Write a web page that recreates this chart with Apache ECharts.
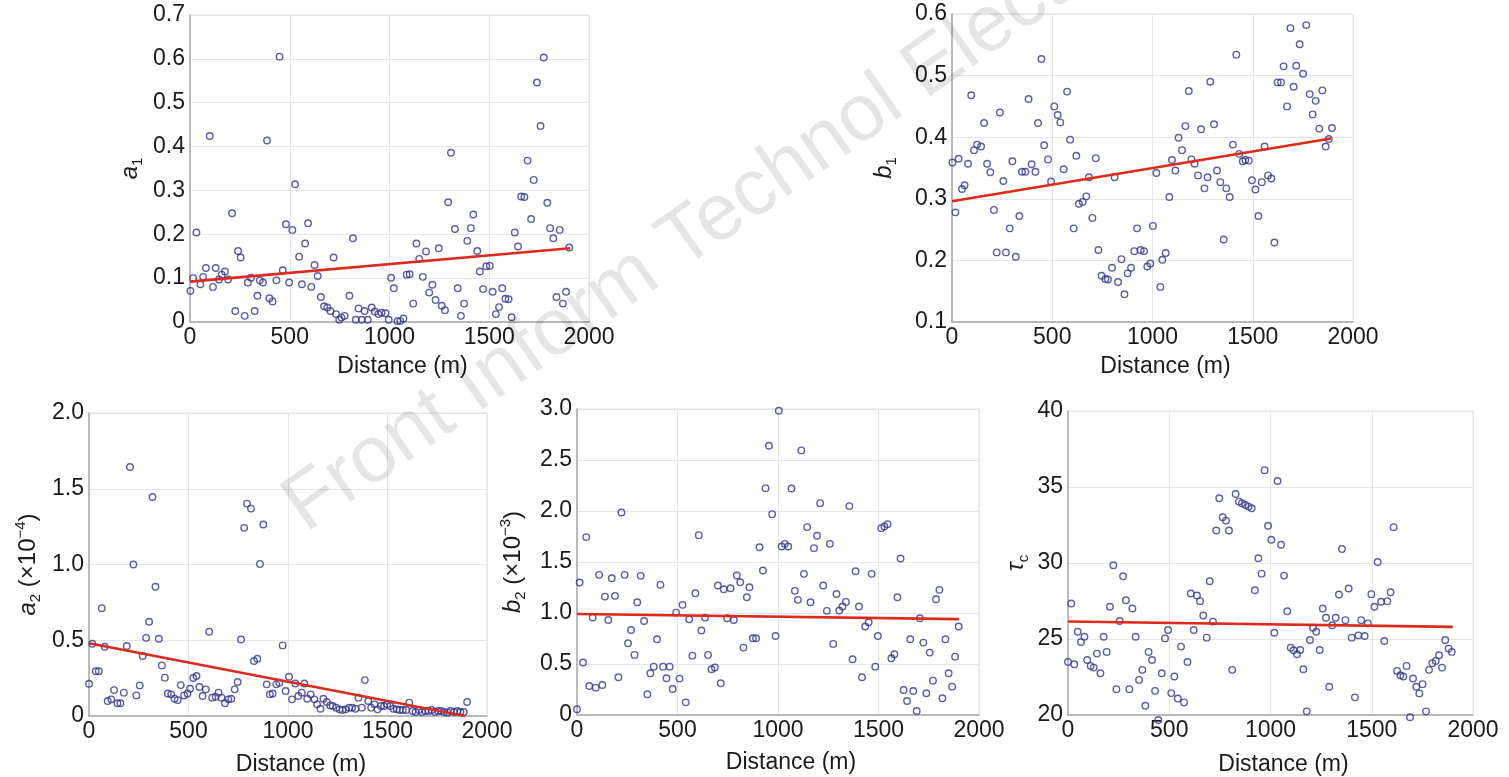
<!DOCTYPE html>
<html>
<head>
<meta charset="utf-8">
<script src="https://cdn.jsdelivr.net/npm/echarts@6/dist/echarts.min.js"></script>
<style>
html, body { margin: 0; padding: 0; background: #fff; }
#chart { width: 1509px; height: 777px; }
</style>
</head>
<body>
<div id="chart"></div>
<script>
// a1 vs distance
const a1X = [2,16,32,52,66,80,99,115,129,145,159,175,191,211,227,241,254,274,290,306,324,338,350,366,386,398,414,433,449,465,481,497,513,527,547,561,577,592,608,624,640,656,672,688,704,720,732,748,759,775,799,817,831,845,861,875,891,911,926,944,960,980,996,1008,1022,1040,1054,1070,1086,1101,1119,1135,1149,1167,1183,1199,1215,1231,1247,1262,1278,1294,1308,1328,1342,1358,1374,1390,1408,1420,1440,1453,1469,1485,1503,1517,1533,1549,1565,1581,1597,1612,1628,1644,1660,1676,1692,1710,1723,1739,1757,1773,1791,1805,1821,1837,1853,1869,1885,1901];
const a1Y = [0.071,0.10,0.204,0.086,0.103,0.123,0.424,0.080,0.123,0.097,0.108,0.115,0.097,0.248,0.025,0.162,0.147,0.014,0.09,0.101,0.025,0.06,0.095,0.09,0.414,0.054,0.047,0.095,0.605,0.118,0.223,0.09,0.21,0.314,0.149,0.086,0.179,0.225,0.08,0.13,0.105,0.057,0.036,0.033,0.025,0.147,0.018,0.005,0.010,0.014,0.06,0.191,0.005,0.031,0.005,0.025,0.005,0.033,0.024,0.018,0.021,0.020,0.005,0.101,0.077,0.002,0.002,0.008,0.108,0.109,0.042,0.179,0.144,0.103,0.161,0.067,0.085,0.05,0.168,0.037,0.027,0.273,0.386,0.212,0.077,0.014,0.042,0.185,0.214,0.245,0.162,0.115,0.075,0.127,0.128,0.069,0.018,0.034,0.077,0.053,0.052,0.011,0.204,0.172,0.286,0.285,0.368,0.235,0.324,0.546,0.447,0.603,0.272,0.214,0.191,0.057,0.21,0.042,0.069,0.17];

// b1 vs distance
const b1X = [2,17,33,50,63,80,96,110,125,145,160,175,191,209,223,239,256,269,288,301,318,336,349,366,382,397,416,429,446,460,479,494,510,527,540,557,574,589,607,620,633,652,670,683,700,717,730,746,765,778,798,811,828,845,860,876,893,909,923,941,958,974,989,1002,1019,1039,1049,1066,1084,1097,1114,1130,1147,1164,1181,1194,1210,1227,1242,1259,1275,1288,1307,1322,1338,1355,1368,1385,1401,1418,1433,1450,1463,1480,1496,1513,1528,1545,1559,1576,1593,1608,1624,1641,1654,1671,1688,1704,1717,1734,1751,1767,1784,1799,1814,1832,1847,1864,1879,1895];
const b1Y = [0.359,0.278,0.365,0.316,0.322,0.357,0.468,0.379,0.388,0.385,0.423,0.357,0.343,0.282,0.213,0.44,0.329,0.213,0.252,0.361,0.206,0.272,0.344,0.344,0.462,0.356,0.344,0.423,0.527,0.387,0.364,0.328,0.45,0.436,0.424,0.348,0.474,0.396,0.252,0.37,0.292,0.295,0.304,0.335,0.269,0.366,0.217,0.175,0.17,0.169,0.188,0.335,0.165,0.202,0.145,0.179,0.188,0.215,0.252,0.217,0.215,0.19,0.195,0.256,0.342,0.157,0.201,0.212,0.303,0.363,0.346,0.399,0.379,0.418,0.475,0.364,0.357,0.338,0.413,0.317,0.335,0.49,0.421,0.346,0.327,0.234,0.317,0.303,0.388,0.534,0.373,0.361,0.363,0.362,0.33,0.315,0.272,0.327,0.385,0.338,0.333,0.229,0.489,0.489,0.515,0.45,0.577,0.482,0.516,0.551,0.503,0.582,0.47,0.437,0.459,0.414,0.476,0.385,0.397,0.415];

// a2 (x10^-4) vs distance
const a2X = [0,17,34,49,64,79,94,112,126,143,158,175,190,206,223,238,255,270,287,302,319,334,351,366,381,396,413,430,446,461,478,495,508,524,540,555,571,587,604,619,636,651,666,683,700,715,732,747,764,780,794,814,829,846,859,876,893,909,923,941,956,973,988,1005,1020,1037,1052,1069,1082,1097,1114,1133,1146,1163,1178,1195,1212,1225,1242,1259,1274,1290,1307,1322,1339,1354,1371,1386,1403,1418,1435,1450,1467,1483,1498,1514,1530,1547,1561,1577,1594,1609,1626,1641,1658,1673,1690,1707,1722,1738,1754,1770,1785,1802,1817,1834,1851,1866,1883,1900];
const a2Y = [0.213,0.477,0.295,0.295,0.712,0.457,0.099,0.11,0.171,0.084,0.084,0.154,0.462,1.644,1.0,0.136,0.202,0.396,0.516,0.622,1.446,0.853,0.51,0.334,0.253,0.149,0.143,0.114,0.105,0.204,0.136,0.149,0.18,0.251,0.264,0.191,0.132,0.176,0.556,0.121,0.127,0.154,0.121,0.084,0.11,0.114,0.176,0.224,0.505,1.242,1.402,1.369,0.363,0.378,1.004,1.264,0.209,0.143,0.149,0.209,0.22,0.466,0.165,0.259,0.11,0.215,0.132,0.154,0.215,0.114,0.143,0.11,0.077,0.048,0.114,0.092,0.07,0.066,0.055,0.044,0.04,0.044,0.055,0.055,0.048,0.121,0.055,0.237,0.099,0.055,0.077,0.044,0.066,0.066,0.077,0.066,0.048,0.044,0.04,0.04,0.04,0.088,0.033,0.026,0.04,0.026,0.033,0.033,0.04,0.026,0.033,0.033,0.026,0.022,0.033,0.026,0.033,0.026,0.026,0.092];

// b2 (x10^-3) vs distance
const b2X = [0,13,30,46,61,78,93,110,126,139,156,173,189,206,221,237,254,269,286,300,317,334,350,365,382,398,415,428,445,461,476,493,510,525,541,558,574,589,606,619,637,652,669,686,701,715,730,747,764,780,795,812,828,845,858,875,891,908,925,938,955,971,988,1004,1018,1034,1051,1067,1084,1099,1116,1129,1145,1162,1179,1194,1210,1225,1243,1258,1275,1291,1305,1321,1338,1355,1371,1386,1403,1418,1434,1451,1466,1484,1497,1514,1529,1545,1564,1579,1594,1610,1625,1642,1658,1673,1690,1706,1723,1738,1755,1771,1786,1803,1818,1833,1849,1866,1881,1899];
const b2Y = [0.056,1.299,0.514,1.744,0.285,0.955,0.268,1.374,0.294,1.161,0.932,1.341,1.168,0.37,1.986,1.374,0.703,0.834,0.589,1.106,1.364,0.922,0.203,0.409,0.474,0.743,1.276,0.474,0.36,0.474,0.255,1.004,0.357,1.08,0.124,0.939,0.582,1.194,1.763,0.828,0.955,0.589,0.448,0.465,1.269,0.311,1.233,0.949,1.243,0.932,1.367,1.302,0.661,1.155,1.253,0.752,0.752,1.645,1.416,2.224,2.64,1.969,0.775,2.983,1.652,1.678,1.652,2.221,1.217,1.129,2.594,1.384,1.842,1.106,1.636,1.757,2.077,1.269,1.021,1.678,0.697,1.187,1.024,1.063,1.109,2.048,0.546,1.41,1.063,0.37,0.867,0.909,1.384,0.474,0.775,1.832,1.848,1.871,0.556,0.595,1.155,1.534,0.245,0.137,0.743,0.236,0.039,0.949,0.71,0.213,0.612,0.337,1.135,1.227,0.164,0.743,0.409,0.278,0.572,0.867];

// tau_c vs distance
const tcX = [0,16,31,48,64,81,95,112,127,143,160,176,191,207,224,239,255,272,286,303,318,334,351,367,382,398,415,430,446,463,479,494,510,525,542,558,573,590,606,621,637,652,668,685,700,716,732,747,764,780,795,811,828,844,859,876,892,907,923,940,956,971,988,1004,1019,1035,1052,1067,1083,1100,1114,1131,1147,1162,1179,1195,1210,1226,1243,1258,1274,1290,1305,1322,1338,1353,1370,1386,1401,1417,1434,1448,1465,1481,1498,1513,1529,1546,1562,1577,1593,1608,1625,1641,1656,1672,1689,1704,1720,1735,1751,1768,1783,1799,1816,1832,1847,1863,1880,1895];
const tcY = [23.49,27.34,23.34,25.48,24.8,25.15,23.62,23.23,23.12,24.04,22.75,25.15,24.15,27.12,29.85,21.7,26.18,29.13,27.55,21.7,27.01,25.15,22.31,22.97,20.61,24.15,23.62,21.59,19.67,22.75,25.04,25.59,21.44,22.53,21.09,24.5,20.83,23.49,27.99,25.59,27.86,27.49,26.55,25.09,28.8,26.14,32.14,34.26,33.01,32.79,32.14,22.97,34.54,34.04,33.93,33.82,33.71,33.6,28.21,30.31,29.3,36.11,32.45,31.53,25.41,35.39,31.2,29.17,26.83,24.43,24.26,24.0,24.28,23.01,20.24,24.93,25.74,25.48,24.28,27.01,26.4,21.86,25.9,26.4,27.93,30.92,26.24,28.32,25.09,21.16,25.24,26.24,25.2,26.03,27.95,27.12,30.07,27.45,24.87,27.49,28.08,32.36,22.9,22.62,22.53,23.23,19.85,22.4,21.86,21.42,22.03,20.24,22.97,23.41,23.56,23.93,23.12,24.93,24.37,24.15];

// fitted lines (end points)
const a1TrendX = [0, 1905], a1TrendY = [0.092, 0.168];
const b1TrendX = [0, 1890], b1TrendY = [0.296, 0.398];
const a2TrendX = [0, 1890], a2TrendY = [0.48, 0.0];
const b2TrendX = [0, 1900], b2TrendY = [0.99, 0.94];
const tcTrendX = [0, 1900], tcTrendY = [26.15, 25.8];

const zip = (xs, ys) => xs.map((x, i) => [x, ys[i]]);
const oneDec = v => (v === 0 ? '0' : v.toFixed(1));

const FONT = 'Liberation Sans, Arial, sans-serif';
const INK = '#1a1a1a';
const nameRich = {
    i: { fontStyle: 'italic', fontSize: 24, lineHeight: 30, fontFamily: FONT, color: INK },
    s: { fontSize: 15, lineHeight: 15, verticalAlign: 'bottom', fontFamily: FONT, color: INK },
    n: { fontSize: 24, lineHeight: 30, fontFamily: FONT, color: INK },
    p: { fontSize: 15, lineHeight: 15, verticalAlign: 'top', fontFamily: FONT, color: INK }
};

const panels = [
    { grid: { left: 190, top: 15, width: 399, height: 307 }, pts: zip(a1X, a1Y), line: zip(a1TrendX, a1TrendY),
      min: 0, max: 0.7, interval: 0.1, name: '{i|a}{s|1}', gap: 45, fmt: null, xGap: 33 },
    { grid: { left: 952, top: 14, width: 401, height: 308 }, pts: zip(b1X, b1Y), line: zip(b1TrendX, b1TrendY),
      min: 0.1, max: 0.6, interval: 0.1, name: '{i|b}{s|1}', gap: 53, fmt: null, xGap: 33 },
    { grid: { left: 89, top: 413, width: 398, height: 304 }, pts: zip(a2X, a2Y), line: zip(a2TrendX, a2TrendY),
      min: 0, max: 2, interval: 0.5, name: '{i|a}{s|2}{n| (×10}{p|−4}{n|)}', gap: 46, fmt: oneDec, xGap: 37 },
    { grid: { left: 577, top: 409, width: 402, height: 306 }, pts: zip(b2X, b2Y), line: zip(b2TrendX, b2TrendY),
      min: 0, max: 3, interval: 0.5, name: '{i|b}{s|2}{n| (×10}{p|−3}{n|)}', gap: 49, fmt: oneDec, xGap: 36 },
    { grid: { left: 1068, top: 411, width: 405, height: 306 }, pts: zip(tcX, tcY), line: zip(tcTrendX, tcTrendY),
      min: 20, max: 40, interval: 5, name: '{i|τ}{s|c}', gap: 37, fmt: null, xGap: 38 }
];

const option = {
    backgroundColor: '#ffffff',
    animation: false,
    grid: panels.map(p => Object.assign({ show: true, borderColor: '#dcdcdc', borderWidth: 1, backgroundColor: 'transparent' }, p.grid)),
    xAxis: panels.map((p, i) => ({
        type: 'value', gridIndex: i, min: 0, max: 2000, interval: 500,
        name: 'Distance (m)', nameLocation: 'middle', nameGap: p.xGap,
        nameTextStyle: { fontSize: 23, fontFamily: FONT, color: INK, padding: [0, 0, 0, 26] },
        axisLine: { show: true, onZero: false, lineStyle: { color: '#a8a8a8', width: 1.5 } },
        axisTick: { show: false },
        axisLabel: { fontSize: 23, fontFamily: FONT, color: INK, margin: 4, formatter: v => String(v) },
        splitLine: { show: true, lineStyle: { color: '#e6e6e6', width: 1 } }
    })),
    yAxis: panels.map((p, i) => ({
        type: 'value', gridIndex: i, min: p.min, max: p.max, interval: p.interval,
        name: p.name, nameLocation: 'middle', nameRotate: 90, nameGap: p.gap,
        nameTextStyle: { rich: nameRich },
        axisLine: { show: true, onZero: false, lineStyle: { color: '#a8a8a8', width: 1.5 } },
        axisTick: { show: false },
        axisLabel: { fontSize: 23, fontFamily: FONT, color: INK, margin: 5, formatter: p.fmt || undefined },
        splitLine: { show: true, lineStyle: { color: '#e6e6e6', width: 1 } }
    })),
    series: panels.flatMap((p, i) => [
        {
            type: 'scatter', xAxisIndex: i, yAxisIndex: i, data: p.pts, clip: false,
            symbol: 'circle', symbolSize: 6.5,
            itemStyle: { color: 'rgba(0,0,0,0)', borderColor: '#35358c', borderWidth: 1.4 },
            z: 3
        },
        {
            type: 'line', xAxisIndex: i, yAxisIndex: i, data: p.line, symbol: 'none',
            lineStyle: { color: '#dc2a1c', width: 2.6 }, z: 4
        }
    ]),
    // journal watermark
    graphic: [{
        type: 'text', x: 316, y: 548, rotation: 35 * Math.PI / 180, silent: true, z: 10,
        style: {
            text: 'Front Inform Technol Electron Eng',
            fontSize: 80, fontFamily: FONT, fill: 'rgba(0,0,0,0.1)',
            align: 'left', verticalAlign: 'bottom'
        }
    }]
};

const chart = echarts.init(document.getElementById('chart'), null, { renderer: 'canvas' });
chart.setOption(option);
</script>
</body>
</html>
